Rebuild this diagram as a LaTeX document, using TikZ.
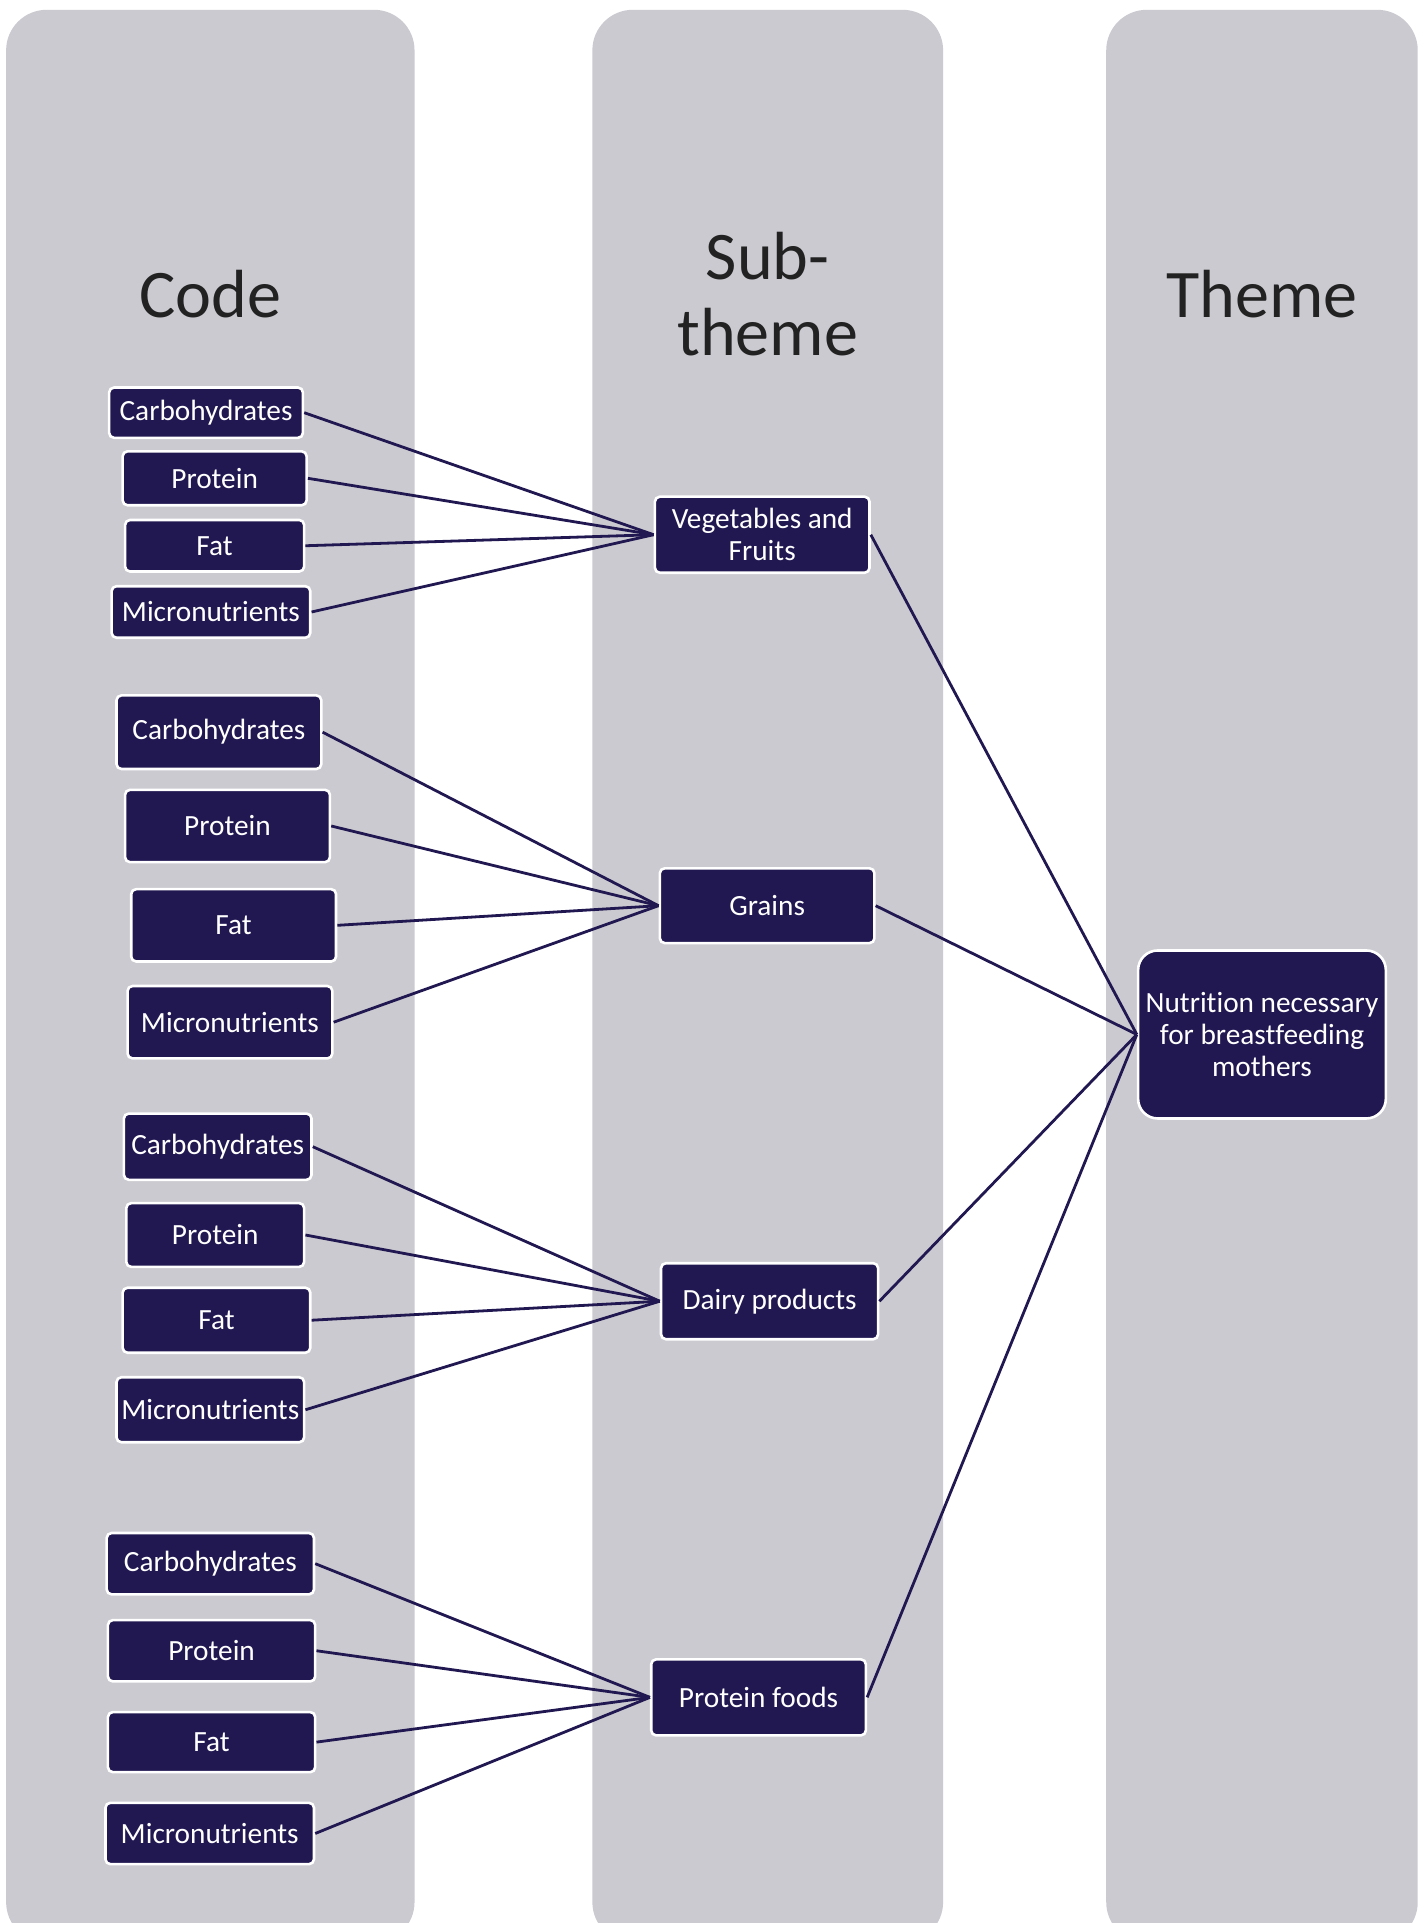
\documentclass[tikz,border=0pt]{standalone}
\usepackage{fontspec}
\setmainfont{Carlito}[Ligatures=NoCommon]
\usepackage{tikz}

\definecolor{lanegray}{HTML}{CBCAD0}
\definecolor{navy}{HTML}{211851}
\definecolor{hdrtext}{HTML}{222222}

\tikzset{
  lane/.style={fill=lanegray, rounded corners=0.33cm},
  hdr/.style={font=\fontsize{15.8}{17.6}\selectfont, text=hdrtext, align=center, anchor=base},
  box/.style={draw=white, line width=0.6pt, fill=navy, text=white, rounded corners=0.04cm,
    font=\fontsize{6.8}{7.5}\selectfont, inner sep=0pt, align=center},
  link/.style={draw=navy, line width=0.65pt},
}

\begin{document}
\begin{tikzpicture}[x=1cm, y=-1cm]
    \useasboundingbox (0,0) rectangle (11.63,15.68);
    \clip (0,0) rectangle (11.63,15.68);
    %lanes
    \fill[lane] (0.05,0.08) rectangle (3.38,15.84);
    \fill[lane] (4.83,0.08) rectangle (7.69,15.84);
    \fill[lane] (9.02,0.08) rectangle (11.56,15.84);
    \node[hdr] (hdrcode) at (1.715,2.585) {Code};
    \node[hdr] (hdrsub) at (6.26,2.896) {Sub-\\theme};
    \node[hdr] (hdrtheme) at (10.29,2.585) {Theme};
    %theme
    \node[box, rounded corners=0.16cm, minimum width=2.02cm, minimum height=1.37cm] (theme) at (10.29,8.435) {Nutrition necessary\\for breastfeeding\\mothers};
    %(1)
    \begin{scope}
      \node[box, minimum width=1.75cm, minimum height=0.62cm] (veg) at (6.215,4.36) {Vegetables and\\Fruits};
      \node[box, minimum width=1.58cm, minimum height=0.41cm] (carbA) at (1.68,3.365) {Carbohydrates};
      \node[box, minimum width=1.50cm, minimum height=0.44cm] (protA) at (1.75,3.90) {Protein};
      \node[box, minimum width=1.46cm, minimum height=0.42cm] (fatA) at (1.75,4.45) {Fat};
      \node[box, minimum width=1.62cm, minimum height=0.42cm] (microA) at (1.72,4.99) {Micronutrients};
      \draw[link] (carbA.east) -- (veg.west);
      \draw[link] (protA.east) -- (veg.west);
      \draw[link] (fatA.east) -- (veg.west);
      \draw[link] (microA.east) -- (veg.west);
      \draw[link] (veg.east) -- (theme.west);
    \end{scope}
    %(2)
    \begin{scope}
      \node[box, minimum width=1.75cm, minimum height=0.61cm] (grains) at (6.255,7.385) {Grains};
      \node[box, minimum width=1.67cm, minimum height=0.60cm] (carbB) at (1.785,5.97) {Carbohydrates};
      \node[box, minimum width=1.67cm, minimum height=0.59cm] (protB) at (1.855,6.735) {Protein};
      \node[box, minimum width=1.67cm, minimum height=0.59cm] (fatB) at (1.905,7.545) {Fat};
      \node[box, minimum width=1.67cm, minimum height=0.59cm] (microB) at (1.875,8.335) {Micronutrients};
      \draw[link] (carbB.east) -- (grains.west);
      \draw[link] (protB.east) -- (grains.west);
      \draw[link] (fatB.east) -- (grains.west);
      \draw[link] (microB.east) -- (grains.west);
      \draw[link] (grains.east) -- (theme.west);
    \end{scope}
    %(3)
    \begin{scope}
      \node[box, minimum width=1.77cm, minimum height=0.62cm] (dairy) at (6.275,10.61) {Dairy products};
      \node[box, minimum width=1.53cm, minimum height=0.54cm] (carbC) at (1.775,9.35) {Carbohydrates};
      \node[box, minimum width=1.45cm, minimum height=0.52cm] (protC) at (1.755,10.07) {Protein};
      \node[box, minimum width=1.53cm, minimum height=0.53cm] (fatC) at (1.765,10.765) {Fat};
      \node[box, minimum width=1.53cm, minimum height=0.53cm] (microC) at (1.715,11.495) {Micronutrients};
      \draw[link] (carbC.east) -- (dairy.west);
      \draw[link] (protC.east) -- (dairy.west);
      \draw[link] (fatC.east) -- (dairy.west);
      \draw[link] (microC.east) -- (dairy.west);
      \draw[link] (dairy.east) -- (theme.west);
    \end{scope}
    %(4)
    \begin{scope}
      \node[box, minimum width=1.75cm, minimum height=0.62cm] (protfoods) at (6.185,13.84) {Protein foods};
      \node[box, minimum width=1.69cm, minimum height=0.50cm] (carbD) at (1.715,12.75) {Carbohydrates};
      \node[box, minimum width=1.69cm, minimum height=0.50cm] (protD) at (1.725,13.46) {Protein};
      \node[box, minimum width=1.69cm, minimum height=0.49cm] (fatD) at (1.725,14.205) {Fat};
      \node[box, minimum width=1.70cm, minimum height=0.50cm] (microD) at (1.71,14.95) {Micronutrients};
      \draw[link] (carbD.east) -- (protfoods.west);
      \draw[link] (protD.east) -- (protfoods.west);
      \draw[link] (fatD.east) -- (protfoods.west);
      \draw[link] (microD.east) -- (protfoods.west);
      \draw[link] (protfoods.east) -- (theme.west);
    \end{scope}
\end{tikzpicture}
\end{document}
